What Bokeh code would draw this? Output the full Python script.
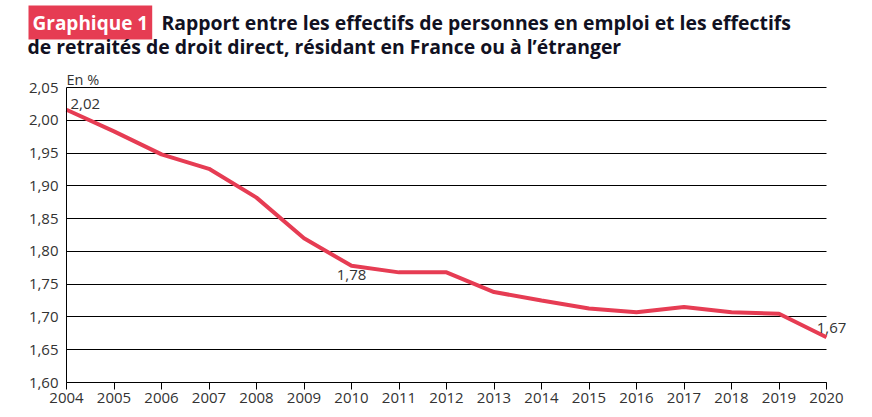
from bokeh.plotting import figure
from bokeh.models import FixedTicker, CustomJSTickFormatter, Label, Range1d, Grid
from bokeh.embed import file_html
from bokeh.resources import INLINE

years = [2004, 2005, 2006, 2007, 2008, 2009, 2010, 2011, 2012, 2013, 2014, 2015, 2016, 2017, 2018, 2019, 2020]
ratio = [2.016, 1.983, 1.948, 1.926, 1.882, 1.820, 1.778, 1.768, 1.768, 1.738, 1.725, 1.713, 1.707, 1.715, 1.707, 1.705, 1.669]
y_ticks = [1.60, 1.65, 1.70, 1.75, 1.80, 1.85, 1.90, 1.95, 2.00, 2.05]
badge_text = "Graphique 1"
title_line1 = "Rapport entre les effectifs de personnes en emploi et les effectifs"
title_line2 = "de retraités de droit direct, résidant en France ou à l\u2019étranger"
unit_text = "En %"
annot_years = [2004, 2010, 2020]
annot_vals = [2.016, 1.778, 1.669]
annot_texts = ["2,02", "1,78", "1,67"]

FONT = "Open Sans"
RED = "#E63C53"
W, H = 872, 417
PX_LEFT, PX_RIGHT = 66, 826  # pixel positions of first / last year
PX_TOP, PX_BOTTOM = 87, 382  # pixel positions of top / bottom tick

x0, x1 = years[0], years[-1]
xs = (PX_RIGHT - PX_LEFT) / (x1 - x0)
y0, y1 = y_ticks[0], y_ticks[-1]
ys = (PX_BOTTOM - PX_TOP) / (y1 - y0)

p = figure(width=W, height=H, output_backend="svg", toolbar_location=None, title=None,
           x_range=Range1d(x0 - PX_LEFT / xs, x1 + (W - PX_RIGHT) / xs),
           y_range=Range1d(y0 - (H - PX_BOTTOM) / ys, y1 + PX_TOP / ys),
           min_border_left=0, min_border_right=0, min_border_top=0, min_border_bottom=0)
p.outline_line_color = None
p.background_fill_color = "white"
p.border_fill_color = "white"

# x axis, pinned at the lowest tick
p.xaxis.ticker = FixedTicker(ticks=years)
p.xaxis.fixed_location = y0
p.xaxis.bounds = (x0, x1)
p.xaxis.axis_line_color = "black"
p.xaxis.major_tick_line_color = "black"
p.xaxis.major_tick_out = 7
p.xaxis.major_tick_in = 0
p.xaxis.minor_tick_line_color = None
p.xaxis.major_label_text_font = FONT
p.xaxis.major_label_text_font_size = "15px"
p.xaxis.major_label_text_color = "#333333"
p.xaxis.major_label_standoff = 3

# y axis, pinned at the first year
p.yaxis.ticker = FixedTicker(ticks=y_ticks)
p.yaxis.fixed_location = x0
p.yaxis.bounds = (y0, y1)
p.yaxis.formatter = CustomJSTickFormatter(code="return tick.toFixed(2).replace('.', ',');")
p.yaxis.axis_line_color = "black"
p.yaxis.major_tick_line_color = None
p.yaxis.minor_tick_line_color = None
p.yaxis.major_tick_out = 0
p.yaxis.major_tick_in = 0
p.yaxis.major_label_text_font = FONT
p.yaxis.major_label_text_font_size = "15px"
p.yaxis.major_label_text_color = "#333333"
p.yaxis.major_label_standoff = 8

p.xgrid.grid_line_color = None
p.ygrid.ticker = FixedTicker(ticks=y_ticks)
if "cross_bounds" in Grid.properties():
    p.ygrid.cross_bounds = (x0, x1)
    p.ygrid.grid_line_color = "black"
    p.ygrid.grid_line_width = 1.2
else:
    p.ygrid.grid_line_color = None
    p.segment(x0=[x0] * len(y_ticks), x1=[x1] * len(y_ticks), y0=y_ticks, y1=y_ticks,
              line_color="black", line_width=1.2)

p.line(years, ratio, line_color=RED, line_width=4)

# data labels
offsets = [(4, 1, "left", "bottom"), (0, -4, "center", "top"), (5, 4, "center", "bottom")]
for yr, v, t, (xo, yo, al, bl) in zip(annot_years, annot_vals, annot_texts, offsets):
    p.add_layout(Label(x=yr, y=v, text=t, x_offset=xo, y_offset=yo, text_align=al,
                       text_baseline=bl, text_font=FONT, text_font_size="15px",
                       text_color="#333333"))

# screen units: the frame spans the whole canvas, y measured up from the bottom
def sy(page_y):
    return H - page_y

p.add_layout(Label(x=PX_LEFT, y=sy(79), x_units="screen", y_units="screen", text=unit_text,
                   text_font=FONT, text_font_size="14.5px", text_color="#333333",
                   text_baseline="alphabetic"))

# title
p.add_layout(Label(x=28, y=sy(22), x_units="screen", y_units="screen", text=badge_text,
                   text_font=FONT, text_font_size="19px", text_font_style="bold",
                   text_color="white", text_baseline="middle",
                   background_fill_color=RED, padding=4))
p.add_layout(Label(x=161, y=sy(22), x_units="screen", y_units="screen", text=title_line1,
                   text_font=FONT, text_font_size="19.4px", text_font_style="bold",
                   text_color="#111122", text_baseline="middle"))
p.add_layout(Label(x=27, y=sy(46), x_units="screen", y_units="screen", text=title_line2,
                   text_font=FONT, text_font_size="19.4px", text_font_style="bold",
                   text_color="#111122", text_baseline="middle"))

open("out.html", "w").write(file_html(p, INLINE))
